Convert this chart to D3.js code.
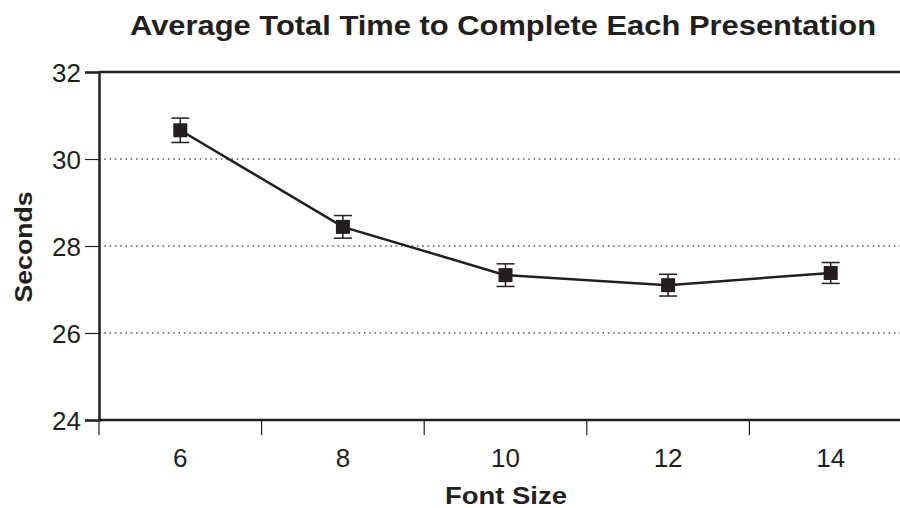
<!DOCTYPE html>
<html>
<head>
<meta charset="utf-8">
<script src="https://cdn.jsdelivr.net/npm/d3@7/dist/d3.min.js"></script>
<style>
  body { margin: 0; background: #fff; }
  text { font-family: Arial, "Liberation Sans", sans-serif; fill: #231f20; }
</style>
</head>
<body>
<script>
var fontSizes = ['6', '8', '10', '12', '14'];
var meanSeconds = [30.66, 28.44, 27.33, 27.10, 27.38];
var errSeconds = [0.28, 0.26, 0.26, 0.25, 0.24];
var yTicks = [24, 26, 28, 30, 32];
var gridTicks = [26, 28, 30];

var ink = '#231f20';
var w = 900, h = 508;
var plotLeft = 99, plotTop = 72, plotBottom = 420;

var svg = d3.select('body').append('svg')
    .attr('width', w)
    .attr('height', h);

var x = d3.scaleBand()
    .domain(fontSizes)
    .range([plotLeft, plotLeft + 5 * 162.6]);

var y = d3.scaleLinear()
    .domain([24, 32])
    .range([plotBottom, plotTop]);

// dotted grid
svg.selectAll('.grid')
    .data(gridTicks)
    .enter().append('line')
    .attr('class', 'grid')
    .attr('x1', plotLeft)
    .attr('x2', w)
    .attr('y1', function(d) { return y(d); })
    .attr('y2', function(d) { return y(d); })
    .style('stroke', '#555')
    .style('stroke-width', 1.3)
    .style('stroke-dasharray', '1.5,3.8');

// top frame line
svg.append('line')
    .attr('x1', plotLeft).attr('x2', w)
    .attr('y1', plotTop).attr('y2', plotTop)
    .style('stroke', ink).style('stroke-width', 2.5);

// y axis
var yAxis = svg.append('g')
    .attr('transform', 'translate(' + plotLeft + ',0)')
    .call(d3.axisLeft(y).tickValues(yTicks).tickSize(14).tickPadding(4));
yAxis.select('.domain').style('stroke', ink).style('stroke-width', 2.5);
yAxis.selectAll('.tick line').style('stroke', ink).style('stroke-width', 1.2);
yAxis.selectAll('.tick text')
    .style('font-size', '26px')
    .style('font-family', 'Arial, "Liberation Sans", sans-serif')
    .attr('dy', '0.36em')
    .style('fill', ink);

// x axis: ticks at band boundaries
var xAxis = svg.append('g')
    .attr('transform', 'translate(0,' + plotBottom + ')');
xAxis.append('line')
    .attr('x1', plotLeft).attr('x2', w)
    .style('stroke', ink).style('stroke-width', 2.5);
xAxis.selectAll('.xtick')
    .data(fontSizes)
    .enter().append('line')
    .attr('class', 'xtick')
    .attr('x1', function(d) { return x(d); })
    .attr('x2', function(d) { return x(d); })
    .attr('y1', 0).attr('y2', 15)
    .style('stroke', ink).style('stroke-width', 1.2);
xAxis.selectAll('.xlabel')
    .data(fontSizes)
    .enter().append('text')
    .attr('class', 'xlabel')
    .attr('x', function(d) { return x(d) + x.bandwidth() / 2; })
    .attr('y', 47)
    .attr('text-anchor', 'middle')
    .style('font-size', '26px')
    .text(function(d) { return d; });

// line
var pts = fontSizes.map(function(f, i) {
    return { f: f, m: meanSeconds[i], e: errSeconds[i] };
});
var cx = function(d) { return x(d.f) + x.bandwidth() / 2; };

svg.append('path')
    .datum(pts)
    .attr('d', d3.line().x(cx).y(function(d) { return y(d.m); }))
    .style('fill', 'none')
    .style('stroke', ink)
    .style('stroke-width', 2.5);

// error bars
var eb = svg.selectAll('.err')
    .data(pts)
    .enter().append('g')
    .attr('class', 'err');
eb.append('line')
    .attr('x1', cx).attr('x2', cx)
    .attr('y1', function(d) { return y(d.m + d.e); })
    .attr('y2', function(d) { return y(d.m - d.e); })
    .style('stroke', ink).style('stroke-width', 1.5);
eb.selectAll('.cap')
    .data(function(d) { return [{ c: cx(d), v: d.m + d.e }, { c: cx(d), v: d.m - d.e }]; })
    .enter().append('line')
    .attr('class', 'cap')
    .attr('x1', function(d) { return d.c - 9; })
    .attr('x2', function(d) { return d.c + 9; })
    .attr('y1', function(d) { return y(d.v); })
    .attr('y2', function(d) { return y(d.v); })
    .style('stroke', ink).style('stroke-width', 1.5);

// markers
svg.selectAll('.mk')
    .data(pts)
    .enter().append('rect')
    .attr('class', 'mk')
    .attr('x', function(d) { return cx(d) - 7; })
    .attr('y', function(d) { return y(d.m) - 7; })
    .attr('width', 14)
    .attr('height', 14)
    .style('fill', ink);

// titles
svg.append('text')
    .attr('x', 503).attr('y', 35)
    .attr('text-anchor', 'middle')
    .attr('textLength', 746)
    .attr('lengthAdjust', 'spacingAndGlyphs')
    .style('font-size', '28px')
    .style('font-weight', 'bold')
    .text('Average Total Time to Complete Each Presentation');

svg.append('text')
    .attr('x', 506).attr('y', 504)
    .attr('text-anchor', 'middle')
    .attr('textLength', 122)
    .attr('lengthAdjust', 'spacingAndGlyphs')
    .style('font-size', '24px')
    .style('font-weight', 'bold')
    .text('Font Size');

svg.append('text')
    .attr('transform', 'translate(32,247) rotate(-90)')
    .attr('text-anchor', 'middle')
    .attr('textLength', 111)
    .attr('lengthAdjust', 'spacingAndGlyphs')
    .style('font-size', '24px')
    .style('font-weight', 'bold')
    .text('Seconds');
</script>
</body>
</html>
